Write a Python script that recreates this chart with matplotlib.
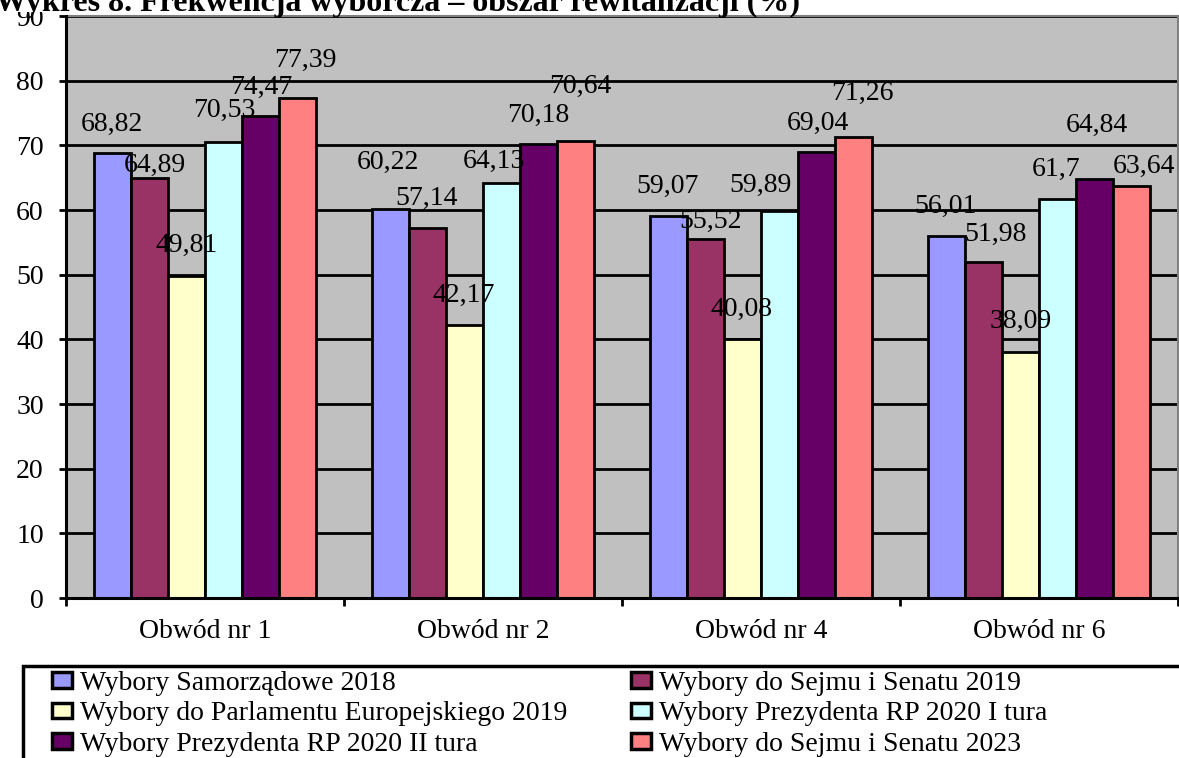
import numpy as np
import matplotlib.pyplot as plt
from matplotlib.patches import Rectangle

plt.rcParams['font.family'] = ['Liberation Serif', 'DejaVu Serif']

# dane
obwody = ["Obwód nr 1", "Obwód nr 2", "Obwód nr 4", "Obwód nr 6"]
serie = ["Wybory Samorządowe 2018",
         "Wybory do Sejmu i Senatu 2019",
         "Wybory do Parlamentu Europejskiego 2019",
         "Wybory Prezydenta RP 2020 I tura",
         "Wybory Prezydenta RP 2020 II tura",
         "Wybory do Sejmu i Senatu 2023"]
samorzadowe_2018 = [68.82, 60.22, 59.07, 56.01]
sejm_2019 = [64.89, 57.14, 55.52, 51.98]
parlament_eu_2019 = [49.81, 42.17, 40.08, 38.09]
prezydent_2020_1 = [70.53, 64.13, 59.89, 61.7]
prezydent_2020_2 = [74.47, 70.18, 69.04, 64.84]
sejm_2023 = [77.39, 70.64, 71.26, 63.64]
wartosci = [samorzadowe_2018, sejm_2019, parlament_eu_2019,
            prezydent_2020_1, prezydent_2020_2, sejm_2023]

kolory = ["#9999FF", "#993366", "#FFFFCC", "#CCFFFF", "#660066", "#FF8080"]

# przesuniecia etykiet (px) - recznie jak w oryginale
przes = [
    [(0, 29), (-2, 46), (-1, 30), (-1, 29)],
    [(5, 13), (-1, 30), (5, 18), (12, 27)],
    [(0, 30), (-1, 30), (-1, 29), (0, 30)],
    [(1, 31), (-8, 22), (-19, 25), (-1, 30)],
    [(1, 29), (0, 29), (1, 28), (2, 53)],
    [(8, 37), (5, 55), (9, 44), (12, 20)],
]

W, H = 1179, 758
fig = plt.figure(figsize=(W / 100, H / 100), dpi=100)
ax = fig.add_axes([66 / W, 1 - 598 / H, 1112 / W, 582 / H])
ax.set_facecolor("#C0C0C0")

n = len(serie)
szer = 0.8 / n
x = np.arange(len(obwody))
px2pt = 72 / 100

uchwyty = []
for i, (vals, kol) in enumerate(zip(wartosci, kolory)):
    pos = x + 0.1 + szer * (i + 0.5)
    b = ax.bar(pos, vals, szer, color=kol, edgecolor="black", linewidth=2, zorder=3)
    uchwyty.append(b)
    for j, (p, v) in enumerate(zip(pos, vals)):
        dx, dy = przes[i][j]
        ax.annotate(f"{v:g}".replace(".", ","), (p, v),
                    xytext=(dx * px2pt, dy * px2pt), textcoords="offset points",
                    ha="center", va="center", fontsize=20, zorder=4)

ax.set_xlim(0, 4)
ax.set_ylim(0, 90)
ax.set_yticks(np.arange(0, 91, 10))
ax.yaxis.grid(True, color="black", linewidth=2, zorder=1)
ax.set_xticks(np.arange(0, 5))
ax.set_xticklabels([])
ax.set_xticks(x + 0.5, minor=True)
ax.set_xticklabels(obwody, minor=True)
ax.tick_params(axis="x", which="major", length=6, width=2, direction="out")
ax.tick_params(axis="x", which="minor", length=0, pad=15, labelsize=20)
ax.tick_params(axis="y", length=5, width=2, pad=11, labelsize=20)

for s in ["left", "bottom"]:
    ax.spines[s].set_linewidth(2.2)
    ax.spines[s].set_zorder(5)
for s in ["top", "right"]:
    ax.spines[s].set_color("#808080")
    ax.spines[s].set_linewidth(1.5)

# gorna czesc obrazka obcieta - biale tlo przykrywa gore etykiety 90
fig.patches.append(Rectangle((0, 1 - 12 / H), 60 / W, 12 / H,
                             transform=fig.transFigure, facecolor="white",
                             edgecolor="none"))
fig.text(-0.004, 1 - 11 / H, "Wykres 8. Frekwencja wyborcza – obszar rewitalizacji (%)",
         fontsize=23, fontweight="bold", va="baseline", ha="left")

# ramka legendy
fig.patches.append(Rectangle((23 / W, -0.1), 1.2, 1 - 666 / H + 0.1,
                             transform=fig.transFigure, fill=False,
                             edgecolor="black", linewidth=2.5))

kolejnosc = [0, 2, 4, 1, 3, 5]
leg = fig.legend([uchwyty[k] for k in kolejnosc], [serie[k] for k in kolejnosc],
                 ncol=2, loc="upper left",
                 bbox_to_anchor=(52 / W, 1 - 671 / H), frameon=False,
                 fontsize=20, handlelength=0.72, handleheight=0.5,
                 handletextpad=0.29, labelspacing=0.19, columnspacing=2.3,
                 borderpad=0, borderaxespad=0)
for h in leg.legend_handles:
    h.set_linewidth(2.5)

fig.savefig("out.png", dpi=100)
